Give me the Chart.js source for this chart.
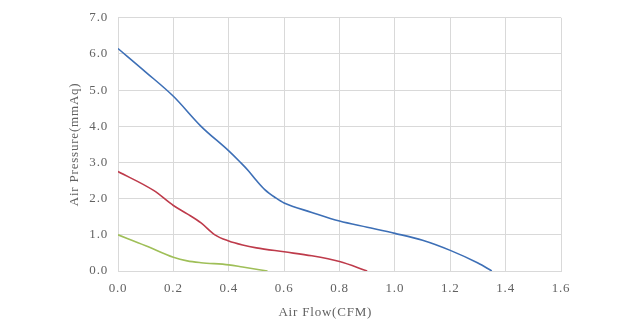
<!DOCTYPE html>
<html>
<head>
<meta charset="utf-8">
<script src="https://cdn.jsdelivr.net/npm/chart.js@4"></script>
<style>
  html,body{margin:0;padding:0;background:#fff;}
  #wrap{width:630px;height:331px;}
</style>
</head>
<body>
<div id="wrap"><canvas id="pq"></canvas></div>
<script>
// fan P-Q curves
const flowHigh = [0.00, 0.10, 0.20, 0.30, 0.40, 0.44, 0.47, 0.50, 0.53, 0.57, 0.60, 0.70, 0.80, 0.90, 1.00, 1.10, 1.20, 1.30, 1.35];
const presHigh = [6.15, 5.50, 4.83, 4.00, 3.32, 3.02, 2.78, 2.50, 2.25, 2.02, 1.88, 1.62, 1.38, 1.21, 1.04, 0.85, 0.57, 0.22, 0.00];

const flowMid  = [0.00, 0.13, 0.20, 0.25, 0.30, 0.35, 0.40, 0.45, 0.50, 0.60, 0.70, 0.80, 0.90];
const presMid  = [2.75, 2.22, 1.81, 1.58, 1.33, 1.00, 0.83, 0.72, 0.64, 0.53, 0.42, 0.26, 0.00];

const flowLow  = [0.00, 0.10, 0.20, 0.25, 0.30, 0.40, 0.45, 0.54];
const presLow  = [1.00, 0.70, 0.38, 0.28, 0.23, 0.17, 0.11, 0.00];

const xTicks = [0, 0.2, 0.4, 0.6, 0.8, 1.0, 1.2, 1.4, 1.6];
const yTicks = [0, 1, 2, 3, 4, 5, 6, 7];

const pts = (xs, ys) => xs.map((x, i) => ({x: x, y: ys[i]}));
const txt = '#626262', grid = '#d9d9d9';
const fnt = {family: '"Liberation Serif", "DejaVu Serif", serif', size: 13};

// spread the serif glyphs out a bit, the original uses a wide CJK-style font
const spacing = {
  id: 'spacing',
  beforeLayout(chart){ chart.ctx.letterSpacing = '0.8px'; },
  beforeDraw(chart){ chart.ctx.letterSpacing = '0.8px'; }
};

const line = (data, col) => ({
  data: data, borderColor: col, backgroundColor: col, borderWidth: 1.6,
  pointRadius: 0, showLine: true, tension: 0.4, cubicInterpolationMode: 'monotone', fill: false
});

new Chart(document.getElementById('pq'), {
  type: 'scatter',
  plugins: [spacing],
  data: {
    datasets: [
      line(pts(flowHigh, presHigh), '#3d6fb6'),
      line(pts(flowMid, presMid), '#be3b4b'),
      line(pts(flowLow, presLow), '#9fbf58')
    ]
  },
  options: {
    responsive: true, maintainAspectRatio: false, animation: false,
    layout: {padding: {top: 16, right: 69, left: 0, bottom: 0}},
    plugins: {legend: {display: false}, tooltip: {enabled: false}},
    scales: {
      x: {
        type: 'linear', min: 0, max: 1.6,
        afterBuildTicks: s => { s.ticks = xTicks.map(v => ({value: v})); },
        afterFit: s => { s.height = 60; },
        ticks: {color: txt, font: fnt, padding: 10, callback: v => v.toFixed(1)},
        grid: {color: grid, lineWidth: 1, drawTicks: false},
        border: {color: grid},
        // title sits a little left of the axis centre in the original
        title: {display: true, text: 'Air Flow(CFM)' + '\u00a0'.repeat(7), color: txt, font: fnt, padding: {top: 4, bottom: 11}}
      },
      y: {
        type: 'linear', min: 0, max: 7,
        afterBuildTicks: s => { s.ticks = yTicks.map(v => ({value: v})); },
        afterFit: s => { s.width = 118; },
        ticks: {color: txt, font: fnt, padding: 10, callback: v => v.toFixed(1)},
        grid: {color: grid, lineWidth: 1, drawTicks: false},
        border: {color: grid},
        title: {display: true, text: 'Air Pressure(mmAq)', color: txt, font: fnt, padding: {top: 67, bottom: 4}}
      }
    }
  }
});
</script>
</body>
</html>
